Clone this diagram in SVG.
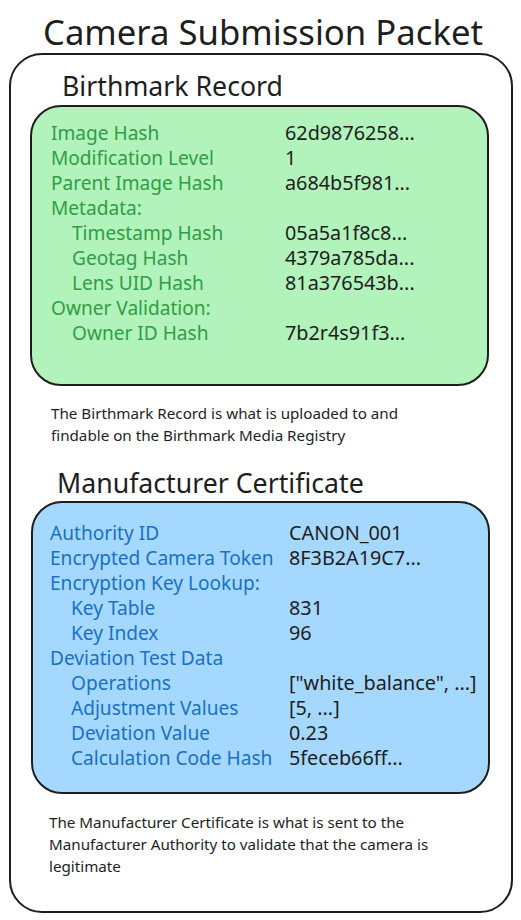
<svg xmlns="http://www.w3.org/2000/svg" width="521" height="920" viewBox="0 0 521 920">
<style>
text { font-family: "Noto Sans", "Open Sans", sans-serif; }
.title { font-size: 34.7px; fill: #1e1e1e; }
.head { font-size: 26.7px; fill: #1e1e1e; }
.g { font-size: 19.1px; fill: #2f9e44; }
.b { font-size: 19.1px; fill: #1971c2; }
.v { font-size: 19.8px; fill: #1e1e1e; }
.note { font-size: 15.2px; fill: #1e1e1e; }
.box { stroke: #1e1e1e; stroke-width: 2; }
</style>
<rect width="521" height="920" fill="#ffffff"/>
<g id="title"><text class="title" x="263" y="45" text-anchor="middle">Camera Submission Packet</text></g>
<g id="packet"><rect class="box" x="10" y="54" width="502" height="858" rx="32" fill="none"/></g>
<g id="birthmark">
<text class="head" x="62" y="96">Birthmark Record</text>
<rect class="box" x="31" y="106" width="457" height="279" rx="30" fill="#b2f2bb"/>
<text class="g" x="51" y="140">Image Hash</text><text class="v" x="285" y="140">62d9876258...</text>
<text class="g" x="51" y="165">Modification Level</text><text class="v" x="285" y="165">1</text>
<text class="g" x="51" y="190">Parent Image Hash</text><text class="v" x="285" y="190">a684b5f981...</text>
<text class="g" x="51" y="215">Metadata:</text>
<text class="g" x="72" y="240">Timestamp Hash</text><text class="v" x="285" y="240">05a5a1f8c8...</text>
<text class="g" x="72" y="265">Geotag Hash</text><text class="v" x="285" y="265">4379a785da...</text>
<text class="g" x="72" y="290">Lens UID Hash</text><text class="v" x="285" y="290">81a376543b...</text>
<text class="g" x="51" y="315">Owner Validation:</text>
<text class="g" x="72" y="340">Owner ID Hash</text><text class="v" x="285" y="340">7b2r4s91f3...</text>
<text class="note" x="51" y="419">The Birthmark Record is what is uploaded to and</text>
<text class="note" x="51" y="441">findable on the Birthmark Media Registry</text>
</g>
<g id="manufacturer">
<text class="head" x="57" y="493">Manufacturer Certificate</text>
<rect class="box" x="32" y="502" width="457" height="291" rx="30" fill="#a5d8ff"/>
<text class="b" x="50" y="540">Authority ID</text><text class="v" x="289" y="540">CANON_001</text>
<text class="b" x="50" y="565">Encrypted Camera Token</text><text class="v" x="289" y="565">8F3B2A19C7...</text>
<text class="b" x="50" y="590">Encryption Key Lookup:</text>
<text class="b" x="71" y="615">Key Table</text><text class="v" x="289" y="615">831</text>
<text class="b" x="71" y="640">Key Index</text><text class="v" x="289" y="640">96</text>
<text class="b" x="50" y="665">Deviation Test Data</text>
<text class="b" x="71" y="690">Operations</text><text class="v" x="289" y="690">["white_balance", ...]</text>
<text class="b" x="71" y="715">Adjustment Values</text><text class="v" x="289" y="715">[5, ...]</text>
<text class="b" x="71" y="740">Deviation Value</text><text class="v" x="289" y="740">0.23</text>
<text class="b" x="71" y="765">Calculation Code Hash</text><text class="v" x="289" y="765">5feceb66ff...</text>
<text class="note" x="49" y="828">The Manufacturer Certificate is what is sent to the</text>
<text class="note" x="49" y="850">Manufacturer Authority to validate that the camera is</text>
<text class="note" x="49" y="872">legitimate</text>
</g>
</svg>
